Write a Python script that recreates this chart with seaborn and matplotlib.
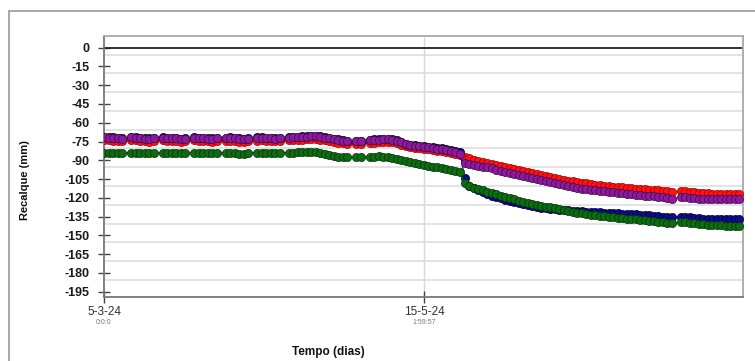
import matplotlib
matplotlib.use("Agg")
import matplotlib.pyplot as plt
import matplotlib.dates as mdates
from matplotlib.lines import Line2D
import seaborn as sns
import pandas as pd
import numpy as np

# ---------------- data ----------------
start_date = "2024-03-05"
days = ([0, 1, 2, 3, 4] + [6, 7, 8, 9, 10, 11] + [13, 14, 15, 16, 17, 18]
        + [20, 21, 22, 23, 24, 25] + [27, 28, 29, 30, 31, 32] + [34, 35, 36, 37, 38, 39]
        + [41, 42, 43, 44, 45, 46, 47, 48, 49, 50, 51, 52, 53, 54] + [56, 57]
        + [59, 60, 61, 62, 63, 64, 65, 66, 67, 68, 69, 70, 71, 72, 73, 74, 75, 76, 77, 78, 79,
           80, 81, 82, 83, 84, 85, 86, 87, 88, 89, 90, 91, 92, 93, 94, 95, 96, 97, 98, 99,
           100, 101, 102, 103, 104, 105, 106, 107, 108, 109, 110, 111, 112, 113, 114, 115,
           116, 117, 118, 119, 120, 121, 122, 123, 124, 125, 126]
        + [128, 129, 130, 131, 132, 133, 134, 135, 136, 137, 138, 139, 140, 141])

red = ([-73.8, -74.0, -74.3, -74.5, -74.8]
       + [-73.8, -74.1, -74.5, -74.8, -75.0, -74.6]
       + [-74.0, -74.3, -74.5, -74.7, -75.1, -74.8]
       + [-74.1, -74.3, -74.6, -74.8, -75.0, -74.7]
       + [-74.3, -74.2, -74.6, -75.0, -75.3, -74.9]
       + [-74.2, -74.0, -74.3, -74.6, -74.8, -74.7]
       + [-74.0, -73.8, -73.6, -73.4, -73.2, -73.0, -72.9, -73.4, -74.0, -74.6, -75.2, -75.8, -76.4, -76.8]
       + [-77.0, -76.8]
       + [-76.0, -75.8, -75.6, -75.4, -75.2, -75.6, -76.4, -77.6, -78.8, -79.4, -79.9, -80.4, -80.8,
          -81.3, -81.8, -82.3, -82.8, -83.4, -84.0, -84.8, -85.6,
          -87.0, -88.4, -89.4, -90.4, -91.4, -92.4, -93.2, -93.9, -94.6, -95.3, -96.0, -96.8, -97.7,
          -98.5, -99.3, -100.1, -100.9, -101.7, -102.5, -103.3, -104.1, -104.9, -105.7, -106.3,
          -106.9, -107.5, -108.0, -108.5, -108.9, -109.4, -109.8, -110.3, -110.7, -111.1, -111.4,
          -111.7, -112.0, -112.3, -112.6, -112.9, -113.2, -113.5, -113.8, -114.1, -114.4, -114.7, -115.1]
       + [-114.5, -114.8, -115.2, -115.6, -116.0, -116.3, -116.4, -116.6, -116.7, -116.8, -116.8,
          -116.9, -116.9, -116.9])

purple = ([-71.5, -71.8, -72.0, -72.2, -72.6]
          + [-71.6, -71.8, -72.3, -72.6, -72.8, -72.4]
          + [-72.0, -72.2, -72.3, -72.5, -72.9, -72.6]
          + [-72.0, -72.1, -72.4, -72.6, -72.8, -72.5]
          + [-72.2, -72.0, -72.4, -72.8, -73.0, -72.6]
          + [-72.0, -71.9, -72.1, -72.4, -72.6, -72.5]
          + [-71.8, -71.6, -71.4, -71.2, -71.0, -70.8, -70.7, -71.2, -71.8, -72.4, -73.0, -73.6, -74.2, -74.6]
          + [-74.8, -74.6]
          + [-73.8, -73.6, -73.4, -73.2, -73.0, -73.4, -74.2, -75.5, -77.0, -77.8, -78.3, -78.6, -79.0,
             -79.6, -80.2, -80.7, -81.2, -81.9, -82.7, -83.6, -84.6,
             -92.0, -92.8, -93.6, -94.3, -95.0, -95.6, -96.5, -97.5, -98.5, -99.5, -100.4, -101.2,
             -102.0, -102.8, -103.6, -104.4, -105.2, -106.0, -106.8, -107.5, -108.2, -109.0, -109.7,
             -110.5, -111.3, -112.0, -112.6, -113.1, -113.6, -114.0, -114.4, -114.8, -115.2, -115.6,
             -116.0, -116.4, -116.7, -117.0, -117.4, -117.8, -118.2, -118.5, -118.9, -119.3, -119.6,
             -120.0, -120.6]
          + [-119.4, -119.6, -119.8, -120.4, -120.9, -121.2, -121.3, -121.1, -121.2, -121.3, -121.2,
             -121.1, -121.2, -121.2])

blue = ([-71.2, -71.5, -71.7, -71.9, -72.3]
        + [-71.3, -71.5, -72.0, -72.3, -72.5, -72.1]
        + [-71.7, -71.9, -72.0, -72.2, -72.6, -72.3]
        + [-71.7, -71.8, -72.1, -72.3, -72.5, -72.2]
        + [-71.9, -71.7, -72.1, -72.5, -72.7, -72.3]
        + [-71.7, -71.6, -71.8, -72.1, -72.3, -72.2]
        + [-71.5, -71.3, -71.1, -70.9, -70.7, -70.5, -70.4, -70.9, -71.5, -72.1, -72.7, -73.3, -73.9, -74.3]
        + [-74.5, -74.3]
        + [-73.5, -73.3, -73.1, -72.9, -72.7, -73.1, -73.9, -75.2, -76.7, -77.5, -78.0, -78.2, -78.5,
           -79.0, -79.5, -79.8, -80.2, -80.8, -81.5, -82.3, -83.2,
           -104.0, -110.5, -112.5, -114.0, -115.5, -117.0, -118.2, -119.3, -120.4, -121.5, -122.5,
           -123.4, -124.2, -125.0, -125.8, -126.6, -127.4, -128.0, -128.5, -129.0, -129.3, -129.6,
           -129.8, -130.0, -130.2, -130.4, -130.7, -131.0, -131.2, -131.4, -131.6, -131.7, -131.8,
           -131.9, -132.2, -132.5, -132.7, -133.0, -133.2, -133.5, -133.7, -134.0, -134.3, -134.6,
           -134.9, -135.2, -135.6]
        + [-135.1, -135.3, -135.6, -135.9, -136.2, -136.5, -136.6, -136.7, -136.8, -136.9, -137.0,
           -137.0, -137.1, -137.1])

green = ([-83.8, -83.9, -84.0, -84.0, -84.1]
         + [-83.8, -83.9, -84.0, -84.1, -84.2, -84.0]
         + [-84.0, -84.2, -84.3, -84.1, -84.4, -84.2]
         + [-84.0, -84.2, -84.3, -84.5, -84.4, -84.2]
         + [-84.2, -84.0, -84.3, -84.6, -85.0, -84.5]
         + [-84.0, -83.9, -84.1, -84.3, -84.4, -84.3]
         + [-83.9, -83.8, -83.7, -83.6, -83.5, -83.4, -83.6, -84.2, -84.9, -85.6, -86.3, -87.0, -87.5, -87.6]
         + [-87.6, -87.5]
         + [-87.1, -87.0, -86.9, -87.1, -87.6, -88.2, -89.0, -89.8, -90.5, -91.4, -92.3, -93.2, -93.6,
            -94.2, -95.0, -95.7, -96.4, -97.2, -98.0, -98.8, -99.6,
            -108.5, -110.6, -111.8, -113.0, -114.1, -115.1, -116.2, -117.3, -118.4, -119.4, -120.4,
            -121.3, -122.2, -123.1, -124.0, -124.9, -125.7, -126.4, -127.1, -127.7, -128.4, -129.1,
            -129.7, -130.4, -131.1, -131.8, -132.4, -133.0, -133.5, -133.9, -134.3, -134.7, -135.1,
            -135.6, -135.9, -136.2, -136.5, -136.8, -137.1, -137.4, -137.7, -138.1, -138.5, -138.9,
            -139.3, -139.7, -140.3]
         + [-139.1, -139.4, -139.8, -140.3, -140.8, -141.2, -141.5, -141.7, -141.9, -142.0, -142.1,
            -142.2, -142.3, -142.3])

y_ticks = [0, -15, -30, -45, -60, -75, -90, -105, -120, -135, -150, -165, -180, -195]
x_tick_dates = ["2024-03-05 00:00:00", "2024-05-15 01:59:57"]
x_tick_labels = ["5-3-24", "15-5-24"]
x_tick_sublabels = ["0:0:0", "1:59:57"]
y_label = "Recalque (mm)"
x_label = "Tempo (dias)"

# ---------------- style ----------------
sns.set_theme(style="white")
plt.rcParams["font.family"] = ["Liberation Sans", "DejaVu Sans"]

W, H = 755, 361
fig = plt.figure(figsize=(W / 100, H / 100), dpi=100)
ax = fig.add_axes([104 / W, 1 - 297 / H, (743 - 104) / W, (297 - 36) / H])

dates = pd.to_datetime(start_date) + pd.to_timedelta(days, unit="D")

series = [
    (red, "#ff1111", "#a00000"),
    (blue, "#0b0b8c", "#00003a"),
    (purple, "#8c1a9a", "#3e0848"),
    (green, "#0d6b12", "#033205"),
]
for i, (vals, col, edge) in enumerate(series):
    sns.lineplot(x=dates, y=vals, ax=ax, color=col, linewidth=0.8, marker="o",
                 markersize=5.9, markeredgecolor=edge, markeredgewidth=0.5,
                 zorder=3 + i, legend=False)

# grid (offset light lines as in the original), zero line, vertical grid
for v in y_ticks[:-1]:
    ax.axhline(v - 5.5, color="#e0e0e0", lw=1.3, zorder=0)
ax.axhline(0, color="#222222", lw=1.3, zorder=1)
tick_pos = [mdates.date2num(pd.Timestamp(d)) for d in x_tick_dates]
ax.axvline(tick_pos[1], color="#d8d8d8", lw=1.0, zorder=0)

t0 = mdates.date2num(pd.Timestamp(start_date))
ax.set_xlim(t0, t0 + 141.8)
ax.set_ylim(-199.2, 9.3)

ax.set_yticks(y_ticks)
ax.set_yticklabels([str(t) for t in y_ticks], fontweight="bold", fontsize=9, color="#1a1a1a")
ax.set_xticks(tick_pos)
ax.set_xticklabels(x_tick_labels, fontsize=8.5, color="#333333")
ax.tick_params(axis="y", direction="inout", length=9, width=1, color="#444444", pad=6, left=True)
ax.tick_params(axis="x", direction="inout", length=9, width=1, color="#444444", pad=2, bottom=True)

for p, s in zip(tick_pos, x_tick_sublabels):
    ax.text(p, -0.097, s, transform=ax.get_xaxis_transform(), ha="center", va="center",
            fontsize=5, color="#777777")

ax.set_xlabel("")
ax.set_ylabel("")
for name, sp in ax.spines.items():
    sp.set_visible(True)
    sp.set_color("#a8a8a8")
    sp.set_linewidth(1.3)
ax.spines["left"].set_color("#777777")
ax.spines["bottom"].set_color("#777777")

fig.text(25 / W, 1 - 180 / H, y_label, rotation=90, ha="center", va="center",
         fontsize=8, fontweight="bold", color="#111111")
fig.text(328 / W, 1 - 352 / H, x_label, ha="center", va="center",
         fontsize=8.5, fontweight="bold", color="#111111")

# outer frame
fig.add_artist(Line2D([9 / W, 9 / W], [0, 1 - 11 / H], transform=fig.transFigure,
                      color="#9a9a9a", lw=1.2))
fig.add_artist(Line2D([9 / W, 1], [1 - 11 / H, 1 - 11 / H], transform=fig.transFigure,
                      color="#9a9a9a", lw=1.2))

fig.savefig("out.png", dpi=100)
